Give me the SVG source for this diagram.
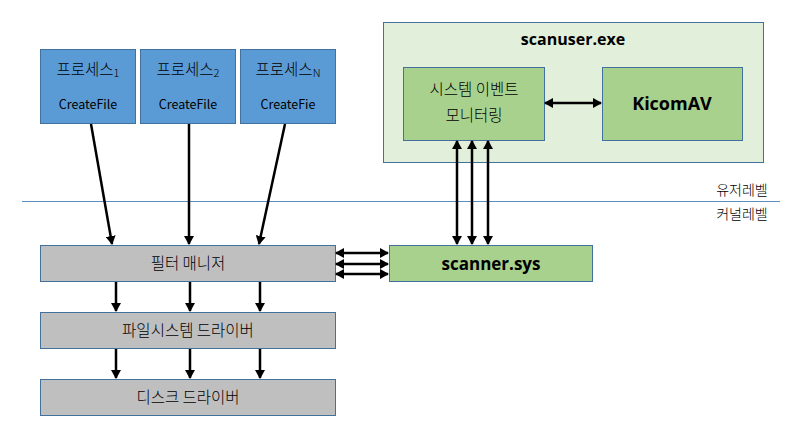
<svg xmlns="http://www.w3.org/2000/svg" width="806" height="437" viewBox="0 0 806 437">
<defs>
<marker id="ah" markerWidth="10" markerHeight="10" refX="8" refY="5" orient="auto" markerUnits="userSpaceOnUse">
<path d="M0,0 L9,5 L0,10 z" fill="#000"/>
</marker>
<marker id="as" markerWidth="10" markerHeight="10" refX="1" refY="5" orient="auto" markerUnits="userSpaceOnUse">
<path d="M9,0 L0,5 L9,10 z" fill="#000"/>
</marker>
</defs>
<style>
text{font-family:"Noto Sans CJK KR","Liberation Sans",sans-serif;fill:#000;text-anchor:middle}
.proc{fill:#5b9bd5;stroke:#41719c;stroke-width:1}
.gray{fill:#bfbfbf;stroke:#41719c;stroke-width:1}
.green{fill:#a9d18e;stroke:#41719c;stroke-width:1}
.outer{fill:#e2efda;stroke:#41719c;stroke-width:1}
.k{font-size:15.5px;font-weight:300}
.s{font-size:12.5px}
.b{font-size:16px;font-weight:bold;font-family:"Open Sans","Liberation Sans",sans-serif}
.c{stroke:#000;stroke-width:2.5;fill:none}
</style>
<rect width="806" height="437" fill="#fff"/>
<g id="scanuser">
<rect class="outer" x="383.5" y="22.5" width="380" height="140"/>
<text class="b" x="573" y="45">scanuser.exe</text>
</g>
<g id="monitor">
<rect class="green" x="403.5" y="67.5" width="141" height="73"/>
<text class="k" x="474" y="95">시스템 이벤트</text>
<text class="k" x="474" y="121">모니터링</text>
</g>
<g id="kicomav">
<rect class="green" x="602.5" y="67.5" width="140" height="73"/>
<text class="b" x="672" y="110" style="font-size:18px">KicomAV</text>
</g>
<g id="p1">
<rect class="proc" x="40.5" y="49.5" width="95" height="74"/>
<text class="k" x="88" y="75">프로세스<tspan style="font-size:11px" dy="2">1</tspan></text>
<text class="s" x="88" y="109">CreateFile</text>
</g>
<g id="p2">
<rect class="proc" x="140.5" y="49.5" width="95" height="74"/>
<text class="k" x="188" y="75">프로세스<tspan style="font-size:11px" dy="2">2</tspan></text>
<text class="s" x="188" y="109">CreateFile</text>
</g>
<g id="pn">
<rect class="proc" x="240.5" y="49.5" width="95" height="74"/>
<text class="k" x="288" y="75">프로세스<tspan style="font-size:11px" dy="2">N</tspan></text>
<text class="s" x="288" y="109">CreateFie</text>
</g>
<g id="levels">
<line x1="22" y1="201.5" x2="780" y2="201.5" stroke="#5b8fc0" stroke-width="1"/>
<text x="742" y="195" style="font-size:14px;font-weight:300">유저레벨</text>
<text x="742" y="219" style="font-size:14px;font-weight:300">커널레벨</text>
</g>
<g id="filter">
<rect class="gray" x="40.5" y="245.5" width="295" height="36"/>
<text class="k" x="188" y="269">필터 매니저</text>
</g>
<g id="scanner">
<rect class="green" x="389.5" y="245.5" width="203" height="36"/>
<text class="b" x="491" y="270" style="font-size:17px">scanner.sys</text>
</g>
<g id="fs">
<rect class="gray" x="40.5" y="312.5" width="295" height="36"/>
<text class="k" x="188" y="336">파일시스템 드라이버</text>
</g>
<g id="disk">
<rect class="gray" x="40.5" y="379.5" width="295" height="36"/>
<text class="k" x="188" y="403">디스크 드라이버</text>
</g>
<g id="connectors">
<line class="c" x1="91" y1="124" x2="112" y2="244" marker-end="url(#ah)"/>
<line class="c" x1="189" y1="124" x2="189" y2="244" marker-end="url(#ah)"/>
<line class="c" x1="285" y1="124" x2="259" y2="244" marker-end="url(#ah)"/>
<line class="c" x1="116" y1="282" x2="116" y2="311" marker-end="url(#ah)"/>
<line class="c" x1="190" y1="282" x2="190" y2="311" marker-end="url(#ah)"/>
<line class="c" x1="260" y1="282" x2="260" y2="311" marker-end="url(#ah)"/>
<line class="c" x1="116" y1="349" x2="116" y2="378" marker-end="url(#ah)"/>
<line class="c" x1="190" y1="349" x2="190" y2="378" marker-end="url(#ah)"/>
<line class="c" x1="260" y1="349" x2="260" y2="378" marker-end="url(#ah)"/>
<line class="c" x1="336" y1="253" x2="388" y2="253" marker-start="url(#as)" marker-end="url(#ah)"/>
<line class="c" x1="336" y1="264" x2="388" y2="264" marker-start="url(#as)" marker-end="url(#ah)"/>
<line class="c" x1="336" y1="274" x2="388" y2="274" marker-start="url(#as)" marker-end="url(#ah)"/>
<line class="c" x1="457" y1="141" x2="457" y2="244" marker-start="url(#as)" marker-end="url(#ah)"/>
<line class="c" x1="472" y1="141" x2="472" y2="244" marker-start="url(#as)" marker-end="url(#ah)"/>
<line class="c" x1="488" y1="141" x2="488" y2="244" marker-start="url(#as)" marker-end="url(#ah)"/>
<line class="c" x1="545" y1="103" x2="601" y2="103" marker-start="url(#as)" marker-end="url(#ah)"/>
</g>
</svg>
